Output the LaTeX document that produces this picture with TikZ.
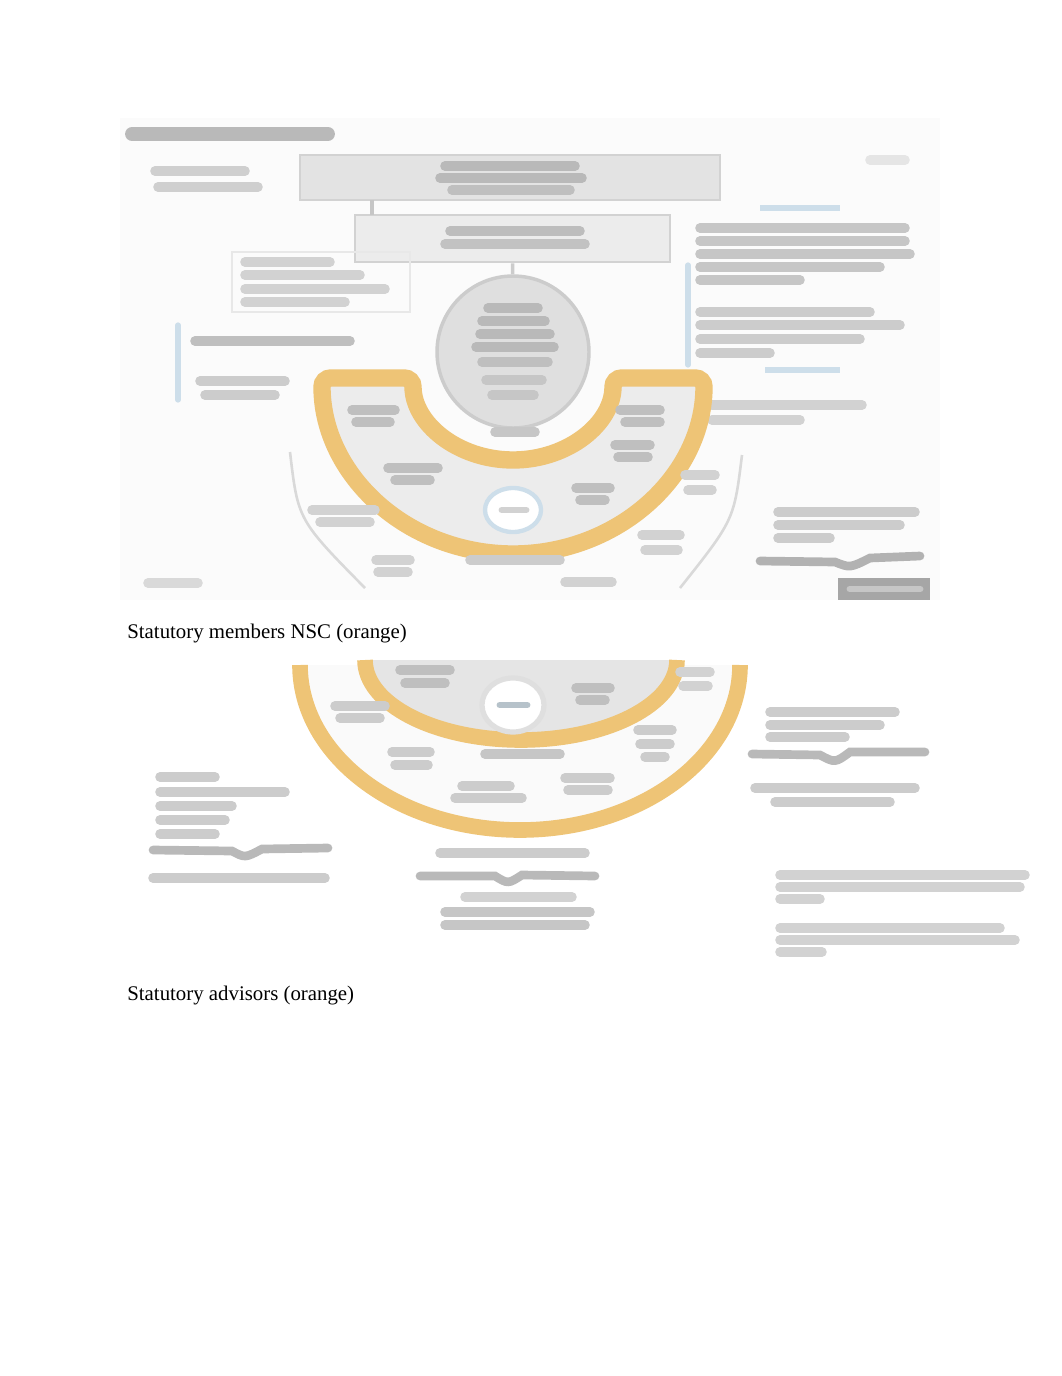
\documentclass[tikz,border=0pt]{standalone}
\usepackage{fontspec}
\usetikzlibrary{shapes.geometric}
\setmainfont{Liberation Serif}
\definecolor{org}{RGB}{238,196,118}
\definecolor{lblue}{RGB}{205,222,234}
\newcommand\txbar[4][gray!40]{\draw[tbar,#1] (#2,#4) -- (#3,#4);}
\tikzset{
  tbar/.style={line width=5.5,line cap=round},
  grbox/.style={draw=gray!35,line width=1.5,inner sep=0pt},
  capt/.style={anchor=base west,inner sep=0pt,font=\fontsize{12}{14}\selectfont},
  orng/.style={draw=org,line width=10},
}
\begin{document}
\begin{tikzpicture}[x=0.576pt,y=-0.576pt]
\useasboundingbox (0,0) rectangle (1062,1376);
% faint frame of picture 1
\fill[gray!3] (120,118) rectangle (940,600);
% title
\txbar[gray!55,line width=8]{132}{328}{134}
\txbar[gray!38]{155}{245}{171}
\txbar[gray!38]{158}{258}{187}
% banner
\node[grbox,fill=gray!22,minimum width=420*0.576pt,minimum height=45*0.576pt] (top) at (510,177.5) {};
\txbar[gray!55]{445}{575}{166}
\txbar[gray!55]{440}{582}{178}
\txbar[gray!50]{452}{570}{190}
\txbar[gray!20]{870}{905}{160}
% second box
\node[grbox,fill=gray!15,minimum width=315*0.576pt,minimum height=47*0.576pt] (sec) at (512.5,238.5) {};
\txbar[gray!52]{450}{580}{231}
\txbar[gray!48]{445}{585}{244}
\draw[gray!45,line width=2] (372,200) -- (372,215);
% left callout
\node[draw=gray!18,line width=1.5,minimum width=178*0.576pt,minimum height=60*0.576pt] (call) at (321,282) {};
\txbar[gray!35]{245}{330}{262}
\txbar[gray!35]{245}{360}{275}
\txbar[gray!35]{245}{385}{289}
\txbar[gray!35]{245}{345}{302}
% left labels with bracket
\draw[lblue,line width=3,line cap=round] (178,325) -- (178,400);
\txbar[gray!50]{195}{350}{341}
\txbar[gray!40]{200}{285}{381}
\txbar[gray!40]{205}{275}{395}
% right text blocks
\draw[lblue,line width=3,line cap=round] (688,265) -- (688,365);
\draw[lblue,line width=3] (760,208) -- (840,208);
\draw[lblue,line width=3] (765,370) -- (840,370);
\txbar[gray!45]{700}{905}{228}
\txbar[gray!45]{700}{905}{241}
\txbar[gray!45]{700}{910}{254}
\txbar[gray!45]{700}{880}{267}
\txbar[gray!45]{700}{800}{280}
\txbar[gray!40]{700}{870}{312}
\txbar[gray!40]{700}{900}{325}
\txbar[gray!40]{700}{860}{339}
\txbar[gray!40]{700}{770}{353}
\txbar[gray!35]{712}{862}{405}
\txbar[gray!35]{712}{800}{420}
% faint outer sectors
\draw[gray!30,line width=1.5] (290,452) .. controls (298,520) .. (365,588);
\draw[gray!30,line width=1.5] (742,455) .. controls (734,520) .. (680,588);
% U band
\draw[orng,fill=gray!15,rounded corners=5] (322,378) arc[start angle=180,end angle=0,x radius=191,y radius=176] -- (613,378) arc[start angle=0,end angle=180,x radius=100,y radius=82] -- cycle;
% circle
\node[circle,draw=gray!40,line width=2,fill=gray!25,minimum size=152*0.576pt,inner sep=0pt] (circ) at (513,352) {};
\draw[gray!40,line width=2] (sec) -- (circ);
\txbar[gray!55]{488}{538}{308}
\txbar[gray!55]{482}{545}{321}
\txbar[gray!55]{480}{550}{334}
\txbar[gray!55]{476}{554}{347}
\txbar[gray!50]{482}{548}{362}
\txbar[gray!45]{486}{542}{380}
\txbar[gray!45]{492}{534}{395}
\txbar[gray!45]{495}{535}{432}
% band texts
\txbar[gray!50]{352}{395}{410}
\txbar[gray!50]{356}{390}{422}
\txbar[gray!50]{388}{438}{468}
\txbar[gray!50]{395}{430}{480}
\txbar[gray!50]{620}{660}{410}
\txbar[gray!50]{625}{660}{422}
\txbar[gray!50]{615}{650}{445}
\txbar[gray!50]{618}{648}{457}
\txbar[gray!50]{576}{610}{488}
\txbar[gray!50]{580}{605}{500}
\node[ellipse,draw=lblue,line width=2.5,fill=white,minimum width=56*0.576pt,minimum height=44*0.576pt] (ell) at (513,510) {};
\txbar[gray!35,line width=4]{502}{526}{510}
% outside band texts
\txbar[gray!40]{470}{560}{560}
\txbar[gray!35]{312}{375}{510}
\txbar[gray!35]{320}{370}{522}
\txbar[gray!35]{376}{410}{560}
\txbar[gray!35]{378}{408}{572}
\txbar[gray!35]{685}{715}{475}
\txbar[gray!35]{688}{712}{490}
\txbar[gray!35]{642}{680}{535}
\txbar[gray!35]{645}{678}{550}
\txbar[gray!35]{565}{612}{582}
\txbar[gray!30]{148}{198}{583}
% bottom right
\txbar[gray!40]{778}{915}{512}
\txbar[gray!40]{778}{900}{525}
\txbar[gray!40]{778}{830}{538}
\draw[gray!60,line width=5,line cap=round] (760,561) -- (835,562) .. controls (850,568) .. (870,558) -- (920,556);
\node[fill=gray!70,minimum width=92*0.576pt,minimum height=22*0.576pt,inner sep=0pt] (dark) at (884,589) {};
\txbar[gray!45,line width=4]{850}{920}{589}
% caption 1
\node[capt] (cap1) at (127,638) {Statutory members NSC (orange)};
% ===== picture 2 =====
\begin{scope}
\clip (280,657) rectangle (760,860);
\fill[gray!4] (300,665) arc[start angle=180,end angle=0,x radius=220,y radius=165] -- cycle;
\fill[gray!20] (365,660) arc[start angle=180,end angle=0,x radius=156,y radius=80] -- cycle;
\draw[orng,line width=9] (365,660) arc[start angle=180,end angle=0,x radius=156,y radius=80];
\draw[orng,line width=9] (300,665) arc[start angle=180,end angle=0,x radius=220,y radius=165];
\end{scope}
\node[ellipse,draw=gray!25,line width=3,fill=white,minimum width=62*0.576pt,minimum height=54*0.576pt] (ell2) at (513,705) {};
\txbar[lblue!70!gray,line width=4]{500}{527}{705}
\txbar[gray!50]{400}{450}{670}
\txbar[gray!50]{405}{445}{683}
\txbar[gray!50]{576}{610}{688}
\txbar[gray!50]{580}{605}{700}
\txbar[gray!35]{680}{710}{672}
\txbar[gray!35]{683}{708}{686}
\txbar[gray!40]{335}{385}{706}
\txbar[gray!40]{340}{380}{718}
\txbar[gray!40]{392}{430}{752}
\txbar[gray!40]{395}{428}{765}
\txbar[gray!45]{485}{560}{754}
\txbar[gray!40]{462}{510}{786}
\txbar[gray!40]{455}{522}{798}
\txbar[gray!40]{638}{672}{730}
\txbar[gray!40]{640}{670}{744}
\txbar[gray!40]{645}{665}{757}
\txbar[gray!40]{565}{610}{778}
\txbar[gray!40]{568}{608}{790}
% left block
\txbar[gray!40]{160}{215}{777}
\txbar[gray!40]{160}{285}{792}
\txbar[gray!40]{160}{232}{806}
\txbar[gray!40]{160}{225}{820}
\txbar[gray!40]{160}{215}{834}
\draw[gray!55,line width=5,line cap=round] (153,850) -- (232,851) .. controls (245,858) .. (262,849) -- (328,848);
\txbar[gray!40]{153}{325}{878}
% centre block
\txbar[gray!40]{440}{585}{853}
\draw[gray!55,line width=5,line cap=round] (420,876) -- (495,876) .. controls (508,884) .. (522,875) -- (595,876);
\txbar[gray!35]{465}{572}{897}
\txbar[gray!45]{445}{590}{912}
\txbar[gray!45]{445}{585}{925}
% right block
\txbar[gray!40]{770}{895}{712}
\txbar[gray!40]{770}{880}{725}
\txbar[gray!40]{770}{845}{737}
\draw[gray!55,line width=5,line cap=round] (752,754) -- (820,755) .. controls (835,763) .. (850,752) -- (925,752);
\txbar[gray!40]{755}{915}{788}
\txbar[gray!40]{775}{890}{802}
% far right
\txbar[gray!35]{780}{1025}{875}
\txbar[gray!35]{780}{1020}{887}
\txbar[gray!35]{780}{820}{899}
\txbar[gray!35]{780}{1000}{928}
\txbar[gray!35]{780}{1015}{940}
\txbar[gray!35]{780}{822}{952}
% caption 2
\node[capt] (cap2) at (127,1000) {Statutory advisors (orange)};
\end{tikzpicture}
\end{document}
